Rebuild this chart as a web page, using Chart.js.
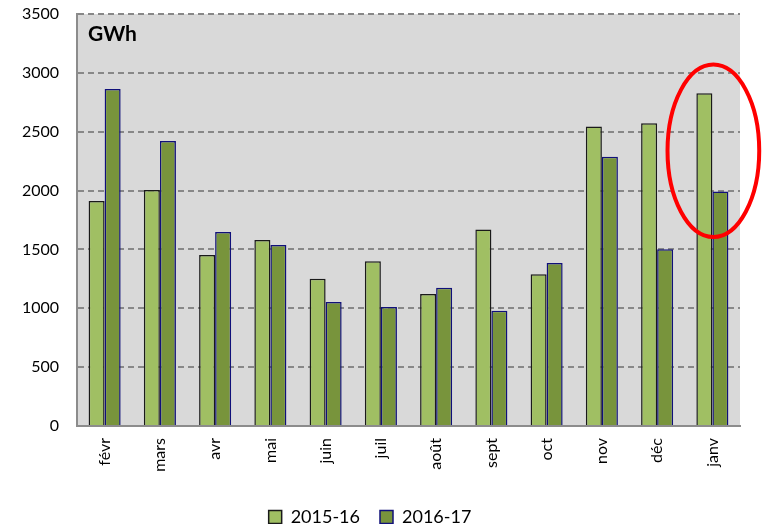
<!DOCTYPE html>
<html>
<head>
<meta charset="utf-8">
<script src="https://cdn.jsdelivr.net/npm/chart.js@4"></script>
<style>
  html, body { margin: 0; padding: 0; background: #ffffff; }
  #wrap { width: 769px; height: 524px; }
</style>
</head>
<body>
<div id="wrap"><canvas id="graf"></canvas></div>
<script>
// Données
const mois = ['févr', 'mars', 'avr', 'mai', 'juin', 'juil', 'août', 'sept', 'oct', 'nov', 'déc', 'janv'];
const conso1516 = [1912, 2005, 1453, 1580, 1250, 1400, 1121, 1670, 1290, 2545, 2572, 2827];
const conso1617 = [2863, 2421, 1648, 1538, 1054, 1011, 1175, 980, 1385, 2288, 1501, 1993];
const ticksY = [0, 500, 1000, 1500, 2000, 2500, 3000, 3500];

const police = 'Lato, "Open Sans", sans-serif';

// Fond gris de la zone de tracé + titre GWh + ellipse rouge
const decor = {
    id: 'decor',
    beforeDraw(chart) {
        const a = chart.chartArea;
        const ctx = chart.ctx;
        ctx.save();
        ctx.fillStyle = '#d9d9d9';
        ctx.fillRect(a.left, a.top, a.right - a.left, a.bottom - a.top);
        ctx.restore();
    },
    afterDraw(chart) {
        const a = chart.chartArea;
        const ctx = chart.ctx;
        const x = chart.scales.x;
        const y = chart.scales.y;
        ctx.save();
        ctx.fillStyle = '#000';
        ctx.font = 'bold 21px ' + police;
        ctx.textBaseline = 'middle';
        ctx.fillText('GWh', a.left + 11, a.top + 20);

        // ellipse autour de janv
        const dernier = mois.length - 1;
        const cx = x.getPixelForValue(dernier);
        const pas = (x.right - x.left) / mois.length;
        const yHaut = y.getPixelForValue(3070);
        const yBas = y.getPixelForValue(1605);
        ctx.strokeStyle = '#ff0000';
        ctx.lineWidth = 4;
        ctx.beginPath();
        ctx.ellipse(cx + 1, (yHaut + yBas) / 2, pas * 0.83, (yBas - yHaut) / 2, 0, 0, Math.PI * 2);
        ctx.stroke();
        ctx.restore();
    }
};

new Chart(document.getElementById('graf'), {
    type: 'bar',
    data: {
        labels: mois,
        datasets: [{
            label: '2015-16',
            data: conso1516,
            backgroundColor: '#a0bf63',
            borderColor: '#1a1a1a',
            borderWidth: 1.5
        }, {
            label: '2016-17',
            data: conso1617,
            backgroundColor: '#78943c',
            borderColor: '#10107a',
            borderWidth: 1.5
        }]
    },
    options: {
        responsive: true,
        maintainAspectRatio: false,
        animation: false,
        layout: { padding: { top: 14, right: 29, left: 0, bottom: -12 } },
        datasets: {
            bar: { barPercentage: 1, categoryPercentage: 0.58 }
        },
        plugins: {
            tooltip: { enabled: false },
            legend: {
                position: 'bottom',
                labels: {
                    color: '#000',
                    font: { family: police, size: 18 },
                    boxWidth: 13,
                    boxHeight: 13,
                    padding: 20
                }
            }
        },
        scales: {
            x: {
                afterFit(s) { s.height = 62; },
                grid: { display: false, drawTicks: false },
                border: { display: true, color: '#8c8c8c', width: 2 },
                ticks: {
                    color: '#000',
                    font: { family: police, size: 16 },
                    maxRotation: 90,
                    minRotation: 90,
                    padding: 12
                }
            },
            y: {
                min: 0,
                max: 3500,
                afterBuildTicks(s) { s.ticks = ticksY.map(v => ({ value: v })); },
                afterFit(s) { s.width = 77; s.paddingTop = 0; s.paddingBottom = 0; },
                grid: {
                    color: ctx => ctx.tick && ctx.tick.value === 0 ? 'rgba(0,0,0,0)' : '#888888',
                    lineWidth: 2,
                    drawTicks: false
                },
                border: { display: true, color: '#8c8c8c', width: 2, dash: [6, 4] },
                ticks: {
                    color: '#000',
                    font: { family: police, size: 16 },
                    padding: 18,
                    callback: v => String(v)
                }
            }
        }
    },
    plugins: [decor]
});
</script>
</body>
</html>
